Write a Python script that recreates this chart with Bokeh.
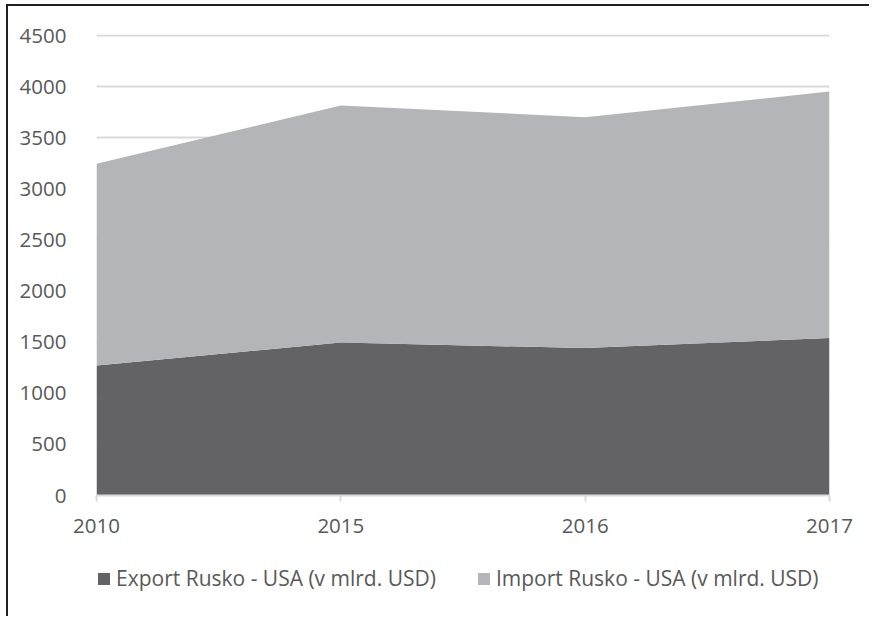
from bokeh.plotting import figure
from bokeh.layouts import column
from bokeh.models import ColumnDataSource, FixedTicker, Legend, Range1d
from bokeh.embed import file_html
from bokeh.resources import INLINE

years = ["2010", "2015", "2016", "2017"]
export_vals = [1272, 1496, 1442, 1540]
import_vals = [1973, 2319, 2259, 2412]
y_ticks = [0, 500, 1000, 1500, 2000, 2500, 3000, 3500, 4000, 4500]
series_names = ["Export Rusko - USA (v mlrd. USD)", "Import Rusko - USA (v mlrd. USD)"]

FONT = "Open Sans"
TXT = "#595959"
COLORS = ["#636365", "#b4b5b8"]

src = ColumnDataSource(dict(x=list(range(len(years))), exp=export_vals, imp=import_vals))

p = figure(frame_width=733, frame_height=461, output_backend="svg", toolbar_location=None,
           x_range=Range1d(0, len(years) - 1), y_range=Range1d(0, 4510),
           min_border_left=88, min_border_right=40, min_border_top=28, min_border_bottom=55)
p.outline_line_color = None

rs = p.varea_stack(["exp", "imp"], x="x", source=src, color=COLORS)

p.xgrid.visible = False
p.ygrid.grid_line_color = "#d9d9d9"
p.ygrid.grid_line_width = 2
p.ygrid.ticker = FixedTicker(ticks=y_ticks)

p.yaxis.ticker = FixedTicker(ticks=y_ticks)
p.yaxis.axis_line_color = None
p.yaxis.major_tick_line_color = None
p.yaxis.minor_tick_line_color = None
p.yaxis.major_label_standoff = 24
p.yaxis.major_label_text_font = FONT
p.yaxis.major_label_text_font_size = "20.5px"
p.yaxis.major_label_text_color = TXT

p.xaxis.ticker = FixedTicker(ticks=list(range(len(years))))
p.xaxis.major_label_overrides = {i: y for i, y in enumerate(years)}
p.xaxis.axis_line_color = "#d9d9d9"
p.xaxis.axis_line_width = 2
p.xaxis.major_tick_line_color = "#d9d9d9"
p.xaxis.major_tick_line_width = 2
p.xaxis.major_tick_in = 0
p.xaxis.major_tick_out = 6
p.xaxis.minor_tick_line_color = None
p.xaxis.major_label_standoff = 17
p.xaxis.major_label_text_font = FONT
p.xaxis.major_label_text_font_size = "20.5px"
p.xaxis.major_label_text_color = TXT

# legend strip: a second figure whose own copies of the stacked areas lie outside its view
p2 = figure(width=861, height=66, output_backend="svg", toolbar_location=None,
            x_range=Range1d(100, 101), y_range=Range1d(0, 1),
            min_border_left=0, min_border_right=0, min_border_top=0, min_border_bottom=0)
p2.axis.visible = False
p2.grid.visible = False
p2.outline_line_color = None
rs2 = p2.varea_stack(["exp", "imp"], x="x", source=src, color=COLORS)

legend = Legend(items=[(series_names[0], [rs2[0]]), (series_names[1], [rs2[1]])],
                orientation="horizontal", location=(0, 24),
                label_text_font=FONT, label_text_font_size="21px", label_text_color=TXT,
                glyph_width=15, glyph_height=15, spacing=40, label_standoff=5,
                border_line_color=None, background_fill_alpha=0, margin=0, padding=0)
p2.add_layout(legend, "center")

layout = column(p, p2, spacing=0)
layout.styles = {"border-left": "2px solid #231f20", "border-top": "2px solid #231f20",
                 "margin-left": "6px", "margin-top": "4px"}

open("out.html", "w").write(file_html(layout, INLINE))
